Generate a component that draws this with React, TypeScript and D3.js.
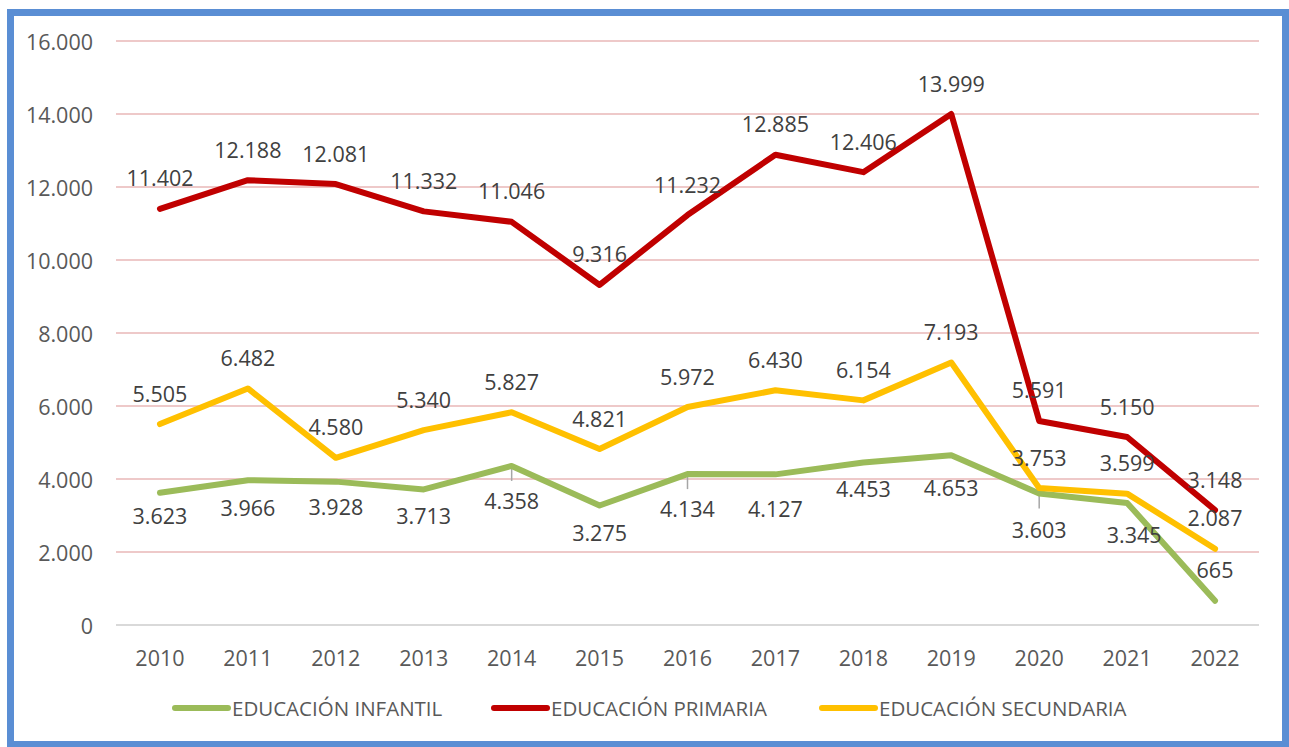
import React from "react";
import * as d3 from "d3";

const years = ["2010","2011","2012","2013","2014","2015","2016","2017","2018","2019","2020","2021","2022"];
const infantil = [3623,3966,3928,3713,4358,3275,4134,4127,4453,4653,3603,3345,665];
const primaria = [11402,12188,12081,11332,11046,9316,11232,12885,12406,13999,5591,5150,3148];
const secundaria = [5505,6482,4580,5340,5827,4821,5972,6430,6154,7193,3753,3599,2087];
const yTicks = [0,2000,4000,6000,8000,10000,12000,14000,16000];
const seriesNames = ["EDUCACIÓN INFANTIL","EDUCACIÓN PRIMARIA","EDUCACIÓN SECUNDARIA"];
const seriesColors = ["#9BBB59","#C00000","#FFC000"];
// label vertical offsets (px) relative to point
const infantilLabelDy = [23,27,25,26,35,27,34,34,26,32,36,32,-31];
const infantilLabelDx = [0,0,0,0,0,0,0,0,0,0,0,7,0];
const infantilLeader = [false,false,false,false,true,false,true,false,false,false,true,false,false];

const W = 1289, H = 747;
const plot = { left: 116, right: 1259, top: 41, bottom: 625 };

const loc = d3.formatLocale({ decimal: ",", thousands: ".", grouping: [3], currency: ["", "€"] });
const fmt = loc.format(",d");
const FONT = "'Open Sans', sans-serif";
const FS = 21.5;

export default function App() {
  const x = d3.scaleBand<string>().domain(years).range([plot.left, plot.right]);
  const cx = (i: number) => (x(years[i]) as number) + x.bandwidth() / 2;
  const y = d3.scaleLinear().domain([0, 16000]).range([plot.bottom, plot.top]);
  const line = d3.line<number>().x((_, i) => cx(i)).y((v) => y(v));
  const data = [infantil, primaria, secundaria];
  const legendX = [175, 494, 822];

  return (
    <svg width={W} height={H} style={{ position: "absolute", left: 0, top: 0, background: "#fff" }} fontFamily={FONT}>
      <rect x={0} y={0} width={W} height={H} fill="#fff" />
      <rect x={10.5} y={12.5} width={1275} height={732} fill="#fff" stroke="#5A8ED4" strokeWidth={7} />
      {yTicks.map((t) => (
        <g key={t}>
          <line x1={plot.left} x2={plot.right} y1={y(t)} y2={y(t)} stroke={t === 0 ? "#D9D9D9" : "#E8B7B7"} strokeWidth={t === 0 ? 2 : 1.5} />
          <text x={93} y={y(t)} textAnchor="end" dominantBaseline="central" fontSize={FS} fill="#595959">{fmt(t)}</text>
        </g>
      ))}
      {years.map((yr, i) => (
        <text key={yr} x={cx(i)} y={657} textAnchor="middle" dominantBaseline="central" fontSize={FS} fill="#595959">{yr}</text>
      ))}
      {infantil.map((v, i) => infantilLeader[i] ? (
        <line key={"ld" + i} x1={cx(i)} x2={cx(i)} y1={y(v) + 2} y2={y(v) + 15} stroke="#A6A6A6" strokeWidth={1.5} />
      ) : null)}
      {data.map((s, k) => (
        <path key={k} d={line(s) as string} fill="none" stroke={seriesColors[k]} strokeWidth={6} strokeLinejoin="round" strokeLinecap="round" />
      ))}
      {secundaria.map((v, i) => (
        <text key={"s" + i} x={cx(i)} y={y(v) - 31} textAnchor="middle" dominantBaseline="central" fontSize={FS} fill="#404040">{fmt(v)}</text>
      ))}
      {primaria.map((v, i) => (
        <text key={"p" + i} x={cx(i)} y={y(v) - 31} textAnchor="middle" dominantBaseline="central" fontSize={FS} fill="#404040">{fmt(v)}</text>
      ))}
      {infantil.map((v, i) => (
        <text key={"i" + i} x={cx(i) + infantilLabelDx[i]} y={y(v) + infantilLabelDy[i]} textAnchor="middle" dominantBaseline="central" fontSize={FS} fill="#404040">{fmt(v)}</text>
      ))}
      {seriesNames.map((n, k) => (
        <g key={n}>
          <line x1={legendX[k]} x2={legendX[k] + 53} y1={708} y2={708} stroke={seriesColors[k]} strokeWidth={6} strokeLinecap="round" />
          <text x={legendX[k] + 57} y={708} dominantBaseline="central" fontSize={20.5} fill="#595959">{n}</text>
        </g>
      ))}
    </svg>
  );
}
